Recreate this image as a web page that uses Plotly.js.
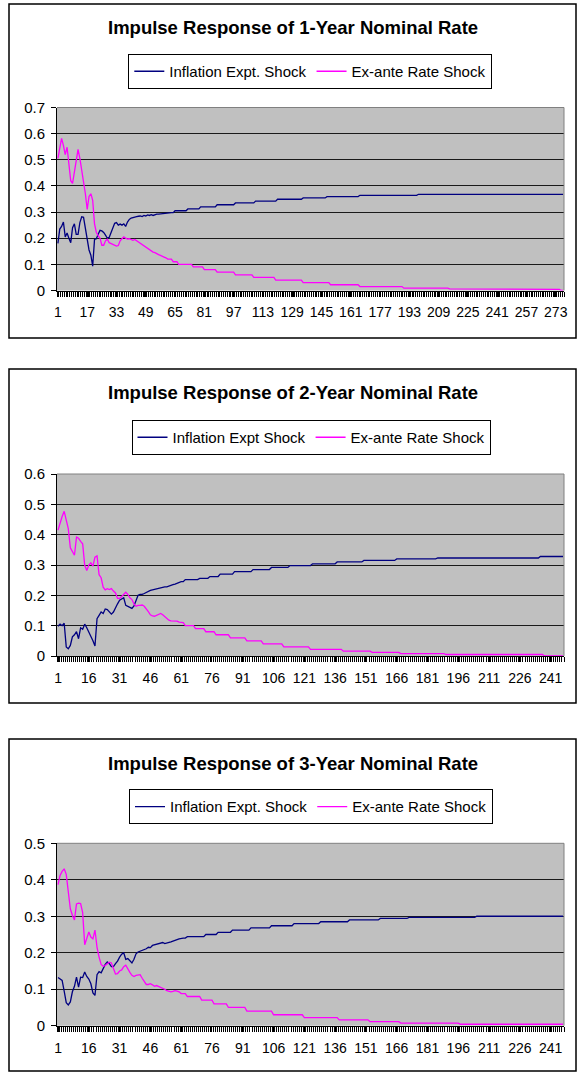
<!DOCTYPE html>
<html><head><meta charset="utf-8">
<script src="https://cdn.plot.ly/plotly-3.0.1.min.js"></script>
<style>html,body{margin:0;padding:0;background:#fff;}#chart{width:578px;height:1074px;}</style>
</head><body><div id="chart"></div>
<script>
// ---------------- data ----------------
const chartTitles = ['Impulse Response of 1-Year Nominal Rate','Impulse Response of 2-Year Nominal Rate','Impulse Response of 3-Year Nominal Rate'];
const seriesNames1 = ['Inflation Expt. Shock','Ex-ante Rate Shock'];
const seriesNames2 = ['Inflation Expt Shock','Ex-ante Rate Shock'];
const seriesNames3 = ['Inflation Expt. Shock','Ex-ante Rate Shock'];
const xTickLabels1 = ['1','17','33','49','65','81','97','113','129','145','161','177','193','209','225','241','257','273'];
const xTickLabels2 = ['1','16','31','46','61','76','91','106','121','136','151','166','181','196','211','226','241'];
const xTickLabels3 = ['1','16','31','46','61','76','91','106','121','136','151','166','181','196','211','226','241'];

const inflation1 = [
0.18,0.235,0.245,0.262,0.205,0.22,0.2,0.183,0.24,0.255,
0.215,0.215,0.26,0.282,0.28,0.24,0.2,0.155,0.135,0.093,
0.195,0.198,0.215,0.23,0.228,0.222,0.212,0.2,0.203,0.222,
0.244,0.257,0.26,0.25,0.254,0.25,0.255,0.245,0.262,0.272,
0.277,0.28,0.28,0.283,0.284,0.285,0.283,0.287,0.285,0.289,
0.287,0.29,0.287,0.29,0.292,0.292,0.293,0.293,0.295,0.296,
0.298,0.298,0.298,0.298,0.305,0.305,0.305,0.305,0.305,0.305,
0.305,0.312,0.312,0.312,0.312,0.312,0.312,0.312,0.32,0.32,
0.32,0.32,0.32,0.32,0.32,0.32,0.32,0.328,0.328,0.328,
0.328,0.328,0.328,0.328,0.328,0.328,0.328,0.335,0.335,0.335,
0.335,0.335,0.335,0.335,0.335,0.335,0.335,0.335,0.342,0.342,
0.342,0.342,0.342,0.342,0.342,0.342,0.342,0.342,0.342,0.342,
0.349,0.349,0.349,0.349,0.349,0.349,0.349,0.349,0.349,0.349,
0.349,0.349,0.349,0.349,0.354,0.354,0.354,0.354,0.354,0.354,
0.354,0.354,0.354,0.354,0.354,0.354,0.354,0.359,0.359,0.359,
0.359,0.359,0.359,0.359,0.359,0.359,0.359,0.359,0.359,0.359,
0.359,0.359,0.359,0.359,0.359,0.364,0.364,0.364,0.364,0.364,
0.364,0.364,0.364,0.364,0.364,0.364,0.364,0.364,0.364,0.364,
0.364,0.364,0.364,0.364,0.364,0.364,0.364,0.364,0.364,0.364,
0.364,0.364,0.364,0.364,0.364,0.364,0.364,0.368,0.368,0.368,
0.368,0.368,0.368,0.368,0.368,0.368,0.368,0.368,0.368,0.368,
0.368,0.368,0.368,0.368,0.368,0.368,0.368,0.368,0.368,0.368,
0.368,0.368,0.368,0.368,0.368,0.368,0.368,0.368,0.368,0.368,
0.368,0.368,0.368,0.368,0.368,0.368,0.368,0.368,0.368,0.368,
0.368,0.368,0.368,0.368,0.368,0.368,0.368,0.368,0.368,0.368,
0.368,0.368,0.368,0.368,0.368,0.368,0.368,0.368,0.368,0.368,
0.368,0.368,0.368,0.368,0.368,0.368,0.368,0.368,0.368,0.368,
0.368,0.368,0.368,0.368,0.368,0.368,0.368];

const exante1 = [
0.505,0.545,0.582,0.555,0.52,0.548,0.48,0.42,0.41,0.455,
0.5,0.54,0.505,0.465,0.41,0.37,0.31,0.36,0.37,0.345,
0.255,0.222,0.21,0.2,0.173,0.173,0.19,0.196,0.183,0.18,
0.175,0.172,0.17,0.172,0.19,0.198,0.205,0.2,0.197,0.198,
0.196,0.192,0.195,0.19,0.188,0.183,0.178,0.172,0.166,0.16,
0.155,0.15,0.147,0.145,0.14,0.137,0.134,0.132,0.128,0.125,
0.12,0.12,0.12,0.11,0.11,0.11,0.1,0.1,0.1,0.1,
0.1,0.1,0.1,0.1,0.09,0.09,0.09,0.09,0.09,0.09,
0.08,0.08,0.08,0.08,0.08,0.08,0.08,0.07,0.07,0.07,
0.07,0.07,0.07,0.07,0.07,0.07,0.07,0.06,0.06,0.06,
0.06,0.06,0.06,0.06,0.06,0.06,0.06,0.05,0.05,0.05,
0.05,0.05,0.05,0.05,0.05,0.05,0.05,0.05,0.05,0.04,
0.04,0.04,0.04,0.04,0.04,0.04,0.04,0.04,0.04,0.04,
0.04,0.04,0.04,0.04,0.03,0.03,0.03,0.03,0.03,0.03,
0.03,0.03,0.03,0.03,0.03,0.03,0.03,0.03,0.03,0.022,
0.022,0.022,0.022,0.022,0.022,0.022,0.022,0.022,0.022,0.022,
0.022,0.022,0.022,0.022,0.022,0.015,0.015,0.015,0.015,0.015,
0.015,0.015,0.015,0.015,0.015,0.015,0.015,0.015,0.015,0.015,
0.015,0.015,0.015,0.015,0.015,0.015,0.015,0.015,0.015,0.009,
0.009,0.009,0.009,0.009,0.009,0.009,0.009,0.009,0.009,0.009,
0.009,0.009,0.009,0.009,0.009,0.009,0.009,0.009,0.009,0.009,
0.009,0.009,0.009,0.009,0.006,0.006,0.006,0.006,0.006,0.006,
0.006,0.006,0.006,0.006,0.006,0.006,0.006,0.006,0.006,0.006,
0.004,0.004,0.004,0.004,0.004,0.004,0.004,0.004,0.004,0.004,
0.004,0.004,0.004,0.004,0.004,0.004,0.004,0.004,0.004,0.004,
0.004,0.004,0.004,0.004,0.004,0.004,0.004,0.004,0.004,0.004,
0.004,0.004,0.004,0.004,0.004,0.004,0.004,0.004,0.004,0.004,
0.004,0.004,0.004,0.004,0.004,0,0];

const inflation2 = [
0.098,0.105,0.1,0.108,0.03,0.024,0.035,0.063,0.07,0.08,
0.057,0.093,0.088,0.105,0.093,0.079,0.068,0.05,0.033,0.123,
0.134,0.145,0.14,0.155,0.153,0.145,0.138,0.145,0.16,0.172,
0.184,0.189,0.192,0.167,0.164,0.162,0.157,0.165,0.185,0.2,
0.203,0.203,0.206,0.21,0.213,0.216,0.218,0.22,0.222,0.224,
0.226,0.226,0.228,0.228,0.231,0.233,0.235,0.237,0.24,0.242,
0.245,0.245,0.252,0.252,0.252,0.252,0.252,0.252,0.252,0.256,
0.256,0.256,0.256,0.256,0.262,0.262,0.262,0.262,0.262,0.27,
0.27,0.27,0.27,0.27,0.27,0.27,0.278,0.278,0.278,0.278,
0.278,0.278,0.278,0.278,0.278,0.285,0.285,0.285,0.285,0.285,
0.285,0.285,0.285,0.285,0.292,0.292,0.292,0.292,0.292,0.292,
0.292,0.292,0.292,0.298,0.298,0.298,0.298,0.298,0.298,0.298,
0.298,0.298,0.298,0.298,0.304,0.304,0.304,0.304,0.304,0.304,
0.304,0.304,0.304,0.304,0.304,0.304,0.31,0.31,0.31,0.31,
0.31,0.31,0.31,0.31,0.31,0.31,0.31,0.31,0.31,0.315,
0.315,0.315,0.315,0.315,0.315,0.315,0.315,0.315,0.315,0.315,
0.315,0.315,0.315,0.315,0.315,0.32,0.32,0.32,0.32,0.32,
0.32,0.32,0.32,0.32,0.32,0.32,0.32,0.32,0.32,0.32,
0.32,0.32,0.32,0.32,0.32,0.323,0.323,0.323,0.323,0.323,
0.323,0.323,0.323,0.323,0.323,0.323,0.323,0.323,0.323,0.323,
0.323,0.323,0.323,0.323,0.323,0.323,0.323,0.323,0.323,0.323,
0.323,0.323,0.323,0.323,0.323,0.323,0.323,0.323,0.323,0.323,
0.323,0.323,0.323,0.323,0.323,0.323,0.323,0.323,0.323,0.323,
0.323,0.323,0.323,0.323,0.323,0.328,0.328,0.328,0.328,0.328,
0.328,0.328,0.328,0.328,0.328,0.328,0.328];

const exante2 = [
0.415,0.442,0.46,0.477,0.45,0.42,0.357,0.345,0.332,0.392,
0.388,0.378,0.37,0.3,0.282,0.3,0.307,0.296,0.326,0.33,
0.268,0.258,0.227,0.218,0.222,0.219,0.222,0.214,0.208,0.19,
0.19,0.196,0.203,0.21,0.203,0.192,0.186,0.172,0.164,0.167,
0.167,0.168,0.164,0.156,0.146,0.136,0.132,0.131,0.134,0.138,
0.14,0.136,0.13,0.124,0.118,0.116,0.116,0.116,0.115,0.112,
0.11,0.11,0.1,0.1,0.1,0.1,0.1,0.09,0.09,0.09,
0.09,0.09,0.08,0.08,0.08,0.08,0.08,0.07,0.07,0.07,
0.07,0.07,0.07,0.07,0.06,0.06,0.06,0.06,0.06,0.06,
0.06,0.06,0.05,0.05,0.05,0.05,0.05,0.05,0.05,0.05,
0.04,0.04,0.04,0.04,0.04,0.04,0.04,0.04,0.04,0.04,
0.03,0.03,0.03,0.03,0.03,0.03,0.03,0.03,0.03,0.03,
0.03,0.03,0.03,0.022,0.022,0.022,0.022,0.022,0.022,0.022,
0.022,0.022,0.022,0.022,0.022,0.022,0.022,0.022,0.022,0.016,
0.016,0.016,0.016,0.016,0.016,0.016,0.016,0.016,0.016,0.016,
0.016,0.016,0.016,0.012,0.012,0.012,0.012,0.012,0.012,0.012,
0.012,0.012,0.012,0.012,0.012,0.012,0.012,0.008,0.008,0.008,
0.008,0.008,0.008,0.008,0.008,0.008,0.008,0.008,0.008,0.008,
0.008,0.008,0.008,0.008,0.008,0.008,0.008,0.008,0.008,0.005,
0.005,0.005,0.005,0.005,0.005,0.005,0.005,0.005,0.005,0.005,
0.005,0.005,0.005,0.005,0.005,0.005,0.005,0.005,0.005,0.005,
0.005,0.005,0.005,0.005,0.005,0.005,0.005,0.005,0.005,0.005,
0.005,0.005,0.005,0.005,0.005,0.005,0.005,0.005,0.005,0.005,
0.005,0.005,0.005,0.005,0.005,0.005,0.005,0,0,0,
0,0,0,0,0,0,0];

const inflation3 = [
0.132,0.129,0.124,0.095,0.063,0.057,0.065,0.093,0.108,0.133,
0.106,0.133,0.132,0.147,0.135,0.128,0.115,0.09,0.083,0.14,
0.148,0.145,0.158,0.168,0.175,0.17,0.162,0.162,0.17,0.177,
0.188,0.196,0.2,0.182,0.184,0.178,0.172,0.182,0.197,0.202,
0.204,0.206,0.208,0.211,0.215,0.214,0.22,0.222,0.223,0.226,
0.228,0.228,0.225,0.226,0.228,0.23,0.232,0.235,0.236,0.238,
0.24,0.24,0.24,0.244,0.244,0.244,0.244,0.244,0.244,0.244,
0.244,0.244,0.25,0.25,0.25,0.25,0.25,0.25,0.256,0.256,
0.256,0.256,0.256,0.256,0.256,0.262,0.262,0.262,0.262,0.262,
0.262,0.262,0.262,0.262,0.268,0.268,0.268,0.268,0.268,0.268,
0.268,0.268,0.268,0.268,0.274,0.274,0.274,0.274,0.274,0.274,
0.274,0.274,0.274,0.274,0.274,0.28,0.28,0.28,0.28,0.28,
0.28,0.28,0.28,0.28,0.28,0.28,0.28,0.28,0.285,0.285,
0.285,0.285,0.285,0.285,0.285,0.285,0.285,0.285,0.285,0.285,
0.285,0.285,0.29,0.29,0.29,0.29,0.29,0.29,0.29,0.29,
0.29,0.29,0.29,0.29,0.29,0.29,0.29,0.294,0.294,0.294,
0.294,0.294,0.294,0.294,0.294,0.294,0.294,0.294,0.294,0.294,
0.294,0.297,0.297,0.297,0.297,0.297,0.297,0.297,0.297,0.297,
0.297,0.297,0.297,0.297,0.297,0.297,0.297,0.297,0.297,0.297,
0.297,0.297,0.297,0.297,0.297,0.297,0.297,0.297,0.297,0.297,
0.297,0.297,0.297,0.297,0.3,0.3,0.3,0.3,0.3,0.3,
0.3,0.3,0.3,0.3,0.3,0.3,0.3,0.3,0.3,0.3,
0.3,0.3,0.3,0.3,0.3,0.3,0.3,0.3,0.3,0.3,
0.3,0.3,0.3,0.3,0.3,0.3,0.3,0.3,0.3,0.3,
0.3,0.3,0.3,0.3,0.3,0.3,0.3];

const exante3 = [
0.387,0.412,0.423,0.43,0.415,0.365,0.32,0.303,0.29,0.334,
0.336,0.335,0.31,0.222,0.243,0.257,0.243,0.238,0.262,0.215,
0.188,0.168,0.163,0.165,0.17,0.174,0.172,0.158,0.142,0.143,
0.15,0.153,0.162,0.166,0.155,0.146,0.138,0.135,0.138,0.14,
0.14,0.13,0.12,0.113,0.113,0.115,0.112,0.108,0.11,0.108,
0.106,0.104,0.1,0.096,0.094,0.093,0.094,0.096,0.095,0.093,
0.088,0.088,0.088,0.08,0.08,0.08,0.08,0.08,0.08,0.08,
0.07,0.07,0.07,0.07,0.07,0.07,0.06,0.06,0.06,0.06,
0.06,0.06,0.06,0.05,0.05,0.05,0.05,0.05,0.05,0.05,
0.05,0.05,0.04,0.04,0.04,0.04,0.04,0.04,0.04,0.04,
0.04,0.04,0.04,0.04,0.04,0.03,0.03,0.03,0.03,0.03,
0.03,0.03,0.03,0.03,0.03,0.03,0.03,0.03,0.03,0.03,
0.022,0.022,0.022,0.022,0.022,0.022,0.022,0.022,0.022,0.022,
0.022,0.022,0.022,0.022,0.022,0.022,0.022,0.016,0.016,0.016,
0.016,0.016,0.016,0.016,0.016,0.016,0.016,0.016,0.016,0.016,
0.016,0.016,0.011,0.011,0.011,0.011,0.011,0.011,0.011,0.011,
0.011,0.011,0.011,0.011,0.011,0.011,0.011,0.007,0.007,0.007,
0.007,0.007,0.007,0.007,0.007,0.007,0.007,0.007,0.007,0.007,
0.007,0.007,0.007,0.007,0.007,0.007,0.007,0.007,0.007,0.007,
0.007,0.007,0.007,0.007,0.007,0.007,0.004,0.004,0.004,0.004,
0.004,0.004,0.004,0.004,0.004,0.004,0.004,0.004,0.004,0.004,
0.004,0.004,0.004,0.004,0.004,0.004,0.004,0.004,0.004,0.004,
0.004,0.004,0.004,0.004,0.004,0.004,0.004,0.004,0.004,0.004,
0.004,0.004,0.004,0.004,0.004,0.004,0.004,0.004,0.004,0.004,
0.004,0.004,0.004,0.004,0.004,0.004,0.004];

// ---------------- layout ----------------
const W = 578, H = 1074;
const FONT = 'Liberation Sans, Arial, Helvetica, sans-serif';
const BLUE = '#000080', MAGENTA = '#FF00FF';
const px = v => v / W, py = v => 1 - v / H;

const panels = [
  {names: seriesNames1, ticks: xTickLabels1, a: inflation1, b: exante1, ymax: 0.7,
   box: [9, 4, 576, 338], plot: [57, 107.5, 564, 290.5], titleY: 27.7, leg: [128.3, 54]},
  {names: seriesNames2, ticks: xTickLabels2, a: inflation2, b: exante2, ymax: 0.6,
   box: [9, 369, 576, 703], plot: [57, 474, 564, 656], titleY: 392.3, leg: [131.5, 420]},
  {names: seriesNames3, ticks: xTickLabels3, a: inflation3, b: exante3, ymax: 0.5,
   box: [9, 739, 576, 1071], plot: [57, 843.3, 564, 1025.7], titleY: 763.3, leg: [129, 789.3]}
];

const traces = [];
const layout = {
  width: W, height: H, margin: {l: 0, r: 0, t: 0, b: 0},
  paper_bgcolor: '#ffffff', plot_bgcolor: '#C0C0C0',
  font: {family: FONT, color: '#000', size: 14},
  annotations: [], shapes: []
};

panels.forEach((p, k) => {
  const n = k === 0 ? '' : String(k + 1);
  const xa = 'x' + n, ya = 'y' + n, lg = 'legend' + n;
  const N = p.a.length;
  const cats = p.a.map((_, i) => i + 1);
  traces.push({x: cats, y: p.a, xaxis: xa, yaxis: ya, type: 'scatter', mode: 'lines',
    name: p.names[0], legend: lg, line: {color: BLUE, width: 1.3}, hoverinfo: 'skip'});
  traces.push({x: cats, y: p.b, xaxis: xa, yaxis: ya, type: 'scatter', mode: 'lines',
    name: p.names[1], legend: lg, line: {color: MAGENTA, width: 1.3}, hoverinfo: 'skip'});

  layout['xaxis' + n] = {
    domain: [px(p.plot[0]), px(p.plot[2])], anchor: ya,
    range: [0.5, N + 0.5], tickmode: 'array',
    tickvals: p.ticks.map(Number), ticktext: p.ticks,
    ticks: 'outside', ticklen: 5, tickwidth: 1, tickcolor: '#000',
    minor: {ticks: 'outside', ticklen: 5, tickwidth: 1, tickcolor: '#000',
            tickmode: 'linear', tick0: 0.5, dtick: 1, showgrid: false},
    showline: true, linecolor: '#000', linewidth: 1,
    showgrid: false, zeroline: false, fixedrange: true,
    tickfont: {size: 14, color: '#000', family: FONT}, ticklabelstandoff: 4
  };
  layout['yaxis' + n] = {
    domain: [py(p.plot[3]), py(p.plot[1])], anchor: xa,
    range: [0, p.ymax], tickmode: 'linear', tick0: 0, dtick: 0.1,
    ticks: 'outside', ticklen: 5, tickwidth: 1, tickcolor: '#000',
    showline: true, linecolor: '#000', linewidth: 1,
    showgrid: true, gridcolor: '#1a1a1a', gridwidth: 1, zeroline: false, fixedrange: true,
    tickfont: {size: 15, color: '#000', family: FONT}, ticklabelstandoff: 3
  };
  layout[lg] = {
    orientation: 'h', x: px(p.leg[0]), y: py(p.leg[1]), xanchor: 'left', yanchor: 'top',
    bgcolor: '#ffffff', bordercolor: '#000', borderwidth: 1,
    font: {size: 15, color: '#000', family: FONT}, itemclick: false, itemdoubleclick: false
  };
  layout.annotations.push({
    xref: 'paper', yref: 'paper', x: px(292.5), y: py(p.titleY), xanchor: 'center', yanchor: 'middle',
    text: '<b>' + chartTitles[k] + '</b>', showarrow: false,
    font: {size: 18.5, color: '#000', family: FONT}
  });
  // outer chart border
  layout.shapes.push({type: 'rect', xref: 'paper', yref: 'paper',
    x0: px(p.box[0]), x1: px(p.box[2]), y0: py(p.box[3]), y1: py(p.box[1]),
    line: {color: '#000', width: 1.5}, fillcolor: 'rgba(0,0,0,0)', layer: 'above'});
  // grey plot-area border (top and right)
  layout.shapes.push({type: 'line', xref: xa + ' domain', yref: ya + ' domain',
    x0: 0, x1: 1, y0: 1, y1: 1, line: {color: '#808080', width: 1}, layer: 'above'});
  layout.shapes.push({type: 'line', xref: xa + ' domain', yref: ya + ' domain',
    x0: 1, x1: 1, y0: 0, y1: 1, line: {color: '#808080', width: 1}, layer: 'above'});
});

Plotly.newPlot('chart', traces, layout, {staticPlot: true, displayModeBar: false});
</script></body></html>
